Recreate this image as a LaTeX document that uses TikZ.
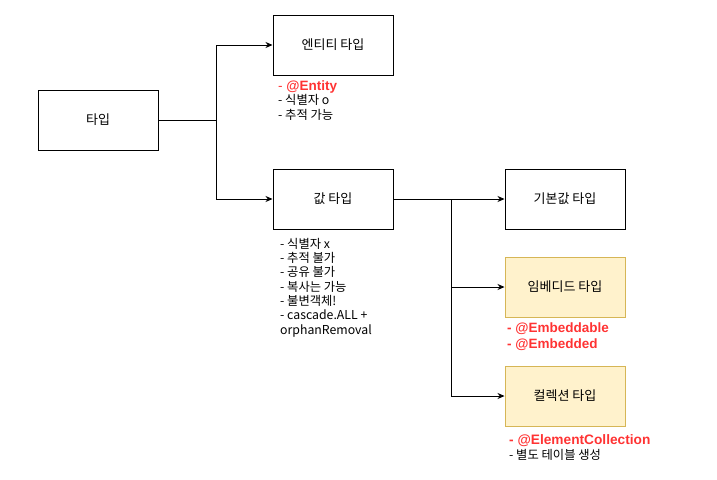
\documentclass[tikz,border=0pt]{standalone}
\usepackage{fontspec}
\setmainfont{Liberation Sans}
\newfontfamily\krfont{Noto Sans CJK KR}
\definecolor{DIOred}{HTML}{FF3333}
\definecolor{DIOyellow}{HTML}{FFF2CC}
\definecolor{DIOgold}{HTML}{D6B656}
\usetikzlibrary{arrows.meta, positioning}

\begin{document}
\begin{tikzpicture}[x=1pt, y=-1pt,
      typebox/.style={draw, line width=1pt, minimum width=120pt, minimum height=60pt,
         inner sep=0pt, font=\krfont\fontsize{13}{14}\selectfont},
      embbox/.style={typebox, draw=DIOgold, fill=DIOyellow},
      note/.style={anchor=base west, align=left, inner sep=0pt,
         font=\krfont\fontsize{12.3}{14.3}\selectfont},
      arr/.style={-{Stealth[length=7pt, width=6pt]}, line width=0.8pt}]
   \useasboundingbox (0,0) rectangle (717,479);
   % boxes
   \node[typebox] (type) at (98,120) {타입};
   \node[typebox] (entity) at (333,45) {엔티티 타입};
   \node[typebox] (value) at (333,199) {값 타입};
   \node[typebox] (basic) at (565,199) {기본값 타입};
   \node[embbox] (embedded) at (565,287) {임베디드 타입};
   \node[embbox] (collection) at (565,396) {컬렉션 타입};
   % branch points
   \coordinate (split1) at (216,120);
   \coordinate (split2) at (451,199);
   % connectors
   \draw[line width=0.8pt] (type.east) -- (split1);
   \draw[arr] (split1) |- (entity.west);
   \draw[arr] (split1) |- (value.west);
   \draw[arr] (value.east) -- (basic.west);
   \draw[arr] (split2) |- (embedded.west);
   \draw[arr] (split2) |- (collection.west);
   % notes (anchored on the baseline of their last line)
   \node[note] (entitynote) at (278,119) {%
      {\color{DIOred}\setmainfont{Liberation Sans}\fontsize{13.5}{14}\selectfont - \textbf{@Entity}}\\
      - 식별자 o\\
      - 추적 가능};
   \node[note] (valuenote) at (280,334) {%
      - 식별자 x\\
      - 추적 불가\\
      - 공유 불가\\
      - 복사는 가능\\
      - 불변객체!\\
      - cascade.ALL +\\
      orphanRemoval};
   \node[note, font=\fontsize{13.5}{16}\selectfont\bfseries, text=DIOred] (embnote) at (507,348) {%
      - @Embeddable\\
      - @Embedded};
   \node[note] (collnote) at (509,459) {%
      {\color{DIOred}\setmainfont{Liberation Sans}\fontsize{13.7}{14}\selectfont\bfseries - @ElementCollection}\\
      - 별도 테이블 생성};
\end{tikzpicture}
\end{document}
